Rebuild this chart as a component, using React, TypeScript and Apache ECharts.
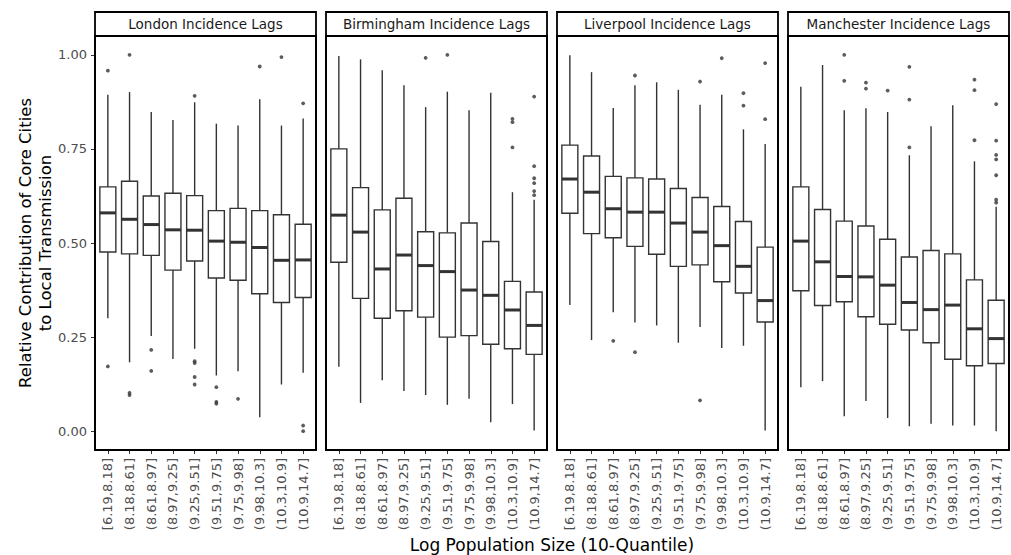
import React, { useEffect, useRef } from "react";
import * as echarts from "echarts";

const categories = [
  "[6.19,8.18]", "(8.18,8.61]", "(8.61,8.97]", "(8.97,9.25]", "(9.25,9.51]",
  "(9.51,9.75]", "(9.75,9.98]", "(9.98,10.3]", "(10.3,10.9]", "(10.9,14.7]",
];

const panelTitles = [
  "London Incidence Lags",
  "Birmingham Incidence Lags",
  "Liverpool Incidence Lags",
  "Manchester Incidence Lags",
];

const yTicks = [0, 0.25, 0.5, 0.75, 1];

// [lower whisker, Q1, median, Q3, upper whisker]
const londonBoxes = [
  [0.300, 0.476, 0.580, 0.649, 0.894],
  [0.183, 0.471, 0.563, 0.664, 0.901],
  [0.253, 0.467, 0.549, 0.625, 0.848],
  [0.192, 0.428, 0.535, 0.632, 0.827],
  [0.219, 0.452, 0.534, 0.626, 0.874],
  [0.148, 0.407, 0.505, 0.586, 0.817],
  [0.159, 0.401, 0.502, 0.592, 0.812],
  [0.037, 0.365, 0.488, 0.586, 0.882],
  [0.124, 0.342, 0.454, 0.575, 0.812],
  [0.155, 0.355, 0.455, 0.550, 0.831],
];
const londonOutliers = [
  [0, 0.958], [0, 0.172], [1, 1.0], [1, 0.102], [1, 0.096], [2, 0.216], [2, 0.160],
  [4, 0.891], [4, 0.186], [4, 0.181], [4, 0.144], [4, 0.124], [5, 0.117], [5, 0.078],
  [5, 0.073], [6, 0.086], [7, 0.969], [8, 0.994], [9, 0.871], [9, 0.015], [9, 0.0],
];

const birminghamBoxes = [
  [0.171, 0.449, 0.574, 0.750, 0.997],
  [0.075, 0.353, 0.529, 0.647, 0.988],
  [0.135, 0.300, 0.431, 0.588, 0.959],
  [0.107, 0.320, 0.468, 0.619, 0.919],
  [0.096, 0.303, 0.440, 0.530, 0.861],
  [0.070, 0.250, 0.424, 0.527, 0.902],
  [0.086, 0.254, 0.375, 0.553, 0.853],
  [0.024, 0.231, 0.361, 0.504, 0.899],
  [0.072, 0.219, 0.322, 0.398, 0.635],
  [0.002, 0.204, 0.281, 0.370, 0.615],
];
const birminghamOutliers = [
  [4, 0.992], [5, 1.0], [8, 0.830], [8, 0.821], [8, 0.754], [9, 0.889], [9, 0.704],
  [9, 0.672], [9, 0.659], [9, 0.638], [9, 0.627],
];

const liverpoolBoxes = [
  [0.335, 0.579, 0.670, 0.760, 0.999],
  [0.242, 0.525, 0.635, 0.731, 0.954],
  [0.316, 0.514, 0.591, 0.677, 0.859],
  [0.289, 0.491, 0.582, 0.673, 0.919],
  [0.281, 0.470, 0.582, 0.670, 0.927],
  [0.235, 0.438, 0.553, 0.645, 0.907],
  [0.277, 0.442, 0.529, 0.621, 0.867],
  [0.221, 0.397, 0.493, 0.597, 0.894],
  [0.227, 0.367, 0.438, 0.557, 0.802],
  [0.002, 0.290, 0.347, 0.489, 0.763],
];
const liverpoolOutliers = [
  [2, 0.240], [3, 0.945], [3, 0.210], [6, 0.929], [6, 0.082], [7, 0.991], [8, 0.898],
  [8, 0.865], [9, 0.978], [9, 0.829],
];

const manchesterBoxes = [
  [0.117, 0.373, 0.505, 0.649, 0.915],
  [0.133, 0.334, 0.450, 0.589, 0.973],
  [0.040, 0.344, 0.411, 0.558, 0.853],
  [0.080, 0.304, 0.410, 0.545, 0.858],
  [0.035, 0.284, 0.388, 0.510, 0.848],
  [0.013, 0.269, 0.342, 0.463, 0.733],
  [0.020, 0.235, 0.323, 0.480, 0.810],
  [0.015, 0.191, 0.335, 0.471, 0.866],
  [0.015, 0.174, 0.272, 0.402, 0.717],
  [0.000, 0.180, 0.246, 0.348, 0.596],
];
const manchesterOutliers = [
  [2, 1.0], [2, 0.931], [3, 0.926], [3, 0.910], [4, 0.905], [5, 0.968], [5, 0.881],
  [5, 0.754], [8, 0.934], [8, 0.906], [8, 0.773], [9, 0.869], [9, 0.772], [9, 0.734],
  [9, 0.722], [9, 0.680], [9, 0.615], [9, 0.607],
];

const allBoxes = [londonBoxes, birminghamBoxes, liverpoolBoxes, manchesterBoxes];
const allOutliers = [londonOutliers, birminghamOutliers, liverpoolOutliers, manchesterOutliers];

const FONT = "DejaVu Sans";
const panelLefts = [95, 326, 557, 788];
const panelWidth = 221;
const panelTop = 36;
const panelHeight = 414;
const stripTop = 12;
const stripHeight = 24;
const BOX_W = 16;
const LINE = "#333333";

function renderBox(params: any, api: any) {
  const k = api.value(0);
  const lo = api.coord([k, api.value(1)]);
  const q1 = api.coord([k, api.value(2)]);
  const md = api.coord([k, api.value(3)]);
  const q3 = api.coord([k, api.value(4)]);
  const hi = api.coord([k, api.value(5)]);
  const x = lo[0];
  const half = BOX_W / 2;
  return {
    type: "group",
    children: [
      {
        type: "line",
        shape: { x1: x, y1: hi[1], x2: x, y2: q3[1] },
        style: { stroke: LINE, lineWidth: 1.4 },
      },
      {
        type: "line",
        shape: { x1: x, y1: q1[1], x2: x, y2: lo[1] },
        style: { stroke: LINE, lineWidth: 1.4 },
      },
      {
        type: "rect",
        shape: { x: x - half, y: q3[1], width: BOX_W, height: q1[1] - q3[1] },
        style: { fill: "#ffffff", stroke: LINE, lineWidth: 1.4 },
      },
      {
        type: "line",
        shape: { x1: x - half, y1: md[1], x2: x + half, y2: md[1] },
        style: { stroke: LINE, lineWidth: 3 },
      },
    ],
  };
}

export default function App() {
  const ref = useRef<HTMLDivElement>(null);
  useEffect(() => {
    if (!ref.current) return;
    const chart = echarts.init(ref.current, null, { renderer: "svg" });

    const grids: any[] = [];
    const xAxes: any[] = [];
    const yAxes: any[] = [];
    const series: any[] = [];
    const graphics: any[] = [];

    panelLefts.forEach((left, i) => {
      grids.push({
        left: left + 2,
        top: panelTop,
        width: panelWidth - 4,
        height: panelHeight,
        containLabel: false,
      });
      xAxes.push({
        type: "category",
        gridIndex: i,
        data: categories,
        boundaryGap: true,
        position: "bottom",
        axisLine: { show: false, onZero: false },
        axisTick: { show: true, alignWithLabel: true, length: 4, lineStyle: { color: LINE, width: 1 } },
        axisLabel: {
          rotate: 90,
          interval: 0,
          fontSize: 13,
          fontFamily: FONT,
          color: "#4d4d4d",
          margin: 8,
        },
        splitLine: { show: false },
      });
      yAxes.push({
        type: "value",
        gridIndex: i,
        min: -0.05,
        max: 1.05,
        offset: 2,
        axisLine: { show: false },
        splitLine: { show: false },
        axisTick: {
          show: i === 0,
          length: 4,
          customValues: yTicks,
          lineStyle: { color: LINE, width: 1 },
        },
        axisLabel: {
          show: i === 0,
          customValues: yTicks,
          formatter: (v: number) => v.toFixed(2),
          fontSize: 13,
          fontFamily: FONT,
          color: "#4d4d4d",
          margin: 8,
        },
      });
      series.push({
        type: "custom",
        xAxisIndex: i,
        yAxisIndex: i,
        data: allBoxes[i].map((b, k) => [k, ...b]),
        encode: { x: 0, y: [1, 2, 3, 4, 5] },
        renderItem: renderBox,
        z: 2,
      });
      series.push({
        type: "scatter",
        xAxisIndex: i,
        yAxisIndex: i,
        data: allOutliers[i],
        symbol: "circle",
        symbolSize: 3.8,
        itemStyle: { color: LINE },
        z: 3,
      });
      graphics.push({
        type: "rect",
        shape: { x: left, y: panelTop, width: panelWidth, height: panelHeight },
        style: { fill: "none", stroke: "#000000", lineWidth: 2 },
        z: 10,
      });
      graphics.push({
        type: "rect",
        shape: { x: left, y: stripTop, width: panelWidth, height: stripHeight },
        style: { fill: "#ffffff", stroke: "#000000", lineWidth: 1.8 },
        z: 10,
      });
      graphics.push({
        type: "text",
        x: left + panelWidth / 2,
        y: stripTop + stripHeight / 2,
        style: {
          text: panelTitles[i],
          fontSize: 13.5,
          fontFamily: FONT,
          fill: "#1a1a1a",
          textAlign: "center",
          textVerticalAlign: "middle",
        },
        z: 11,
      });
    });

    graphics.push({
      type: "text",
      x: 35,
      y: 243,
      rotation: Math.PI / 2,
      style: {
        text: "Relative Contribution of Core Cities\nto Local Transmission",
        fontSize: 16.5,
        lineHeight: 20,
        fontFamily: FONT,
        fill: "#000000",
        textAlign: "center",
        textVerticalAlign: "middle",
      },
    });
    graphics.push({
      type: "text",
      x: 552,
      y: 545,
      style: {
        text: "Log Population Size (10-Quantile)",
        fontSize: 17,
        fontFamily: FONT,
        fill: "#000000",
        textAlign: "center",
        textVerticalAlign: "middle",
      },
    });

    chart.setOption({
      animation: false,
      backgroundColor: "#ffffff",
      grid: grids,
      xAxis: xAxes,
      yAxis: yAxes,
      series,
      graphic: graphics,
    });
    return () => chart.dispose();
  }, []);
  return (
    <div
      ref={ref}
      style={{ position: "fixed", left: 0, top: 0, width: 1011, height: 555 }}
    />
  );
}
